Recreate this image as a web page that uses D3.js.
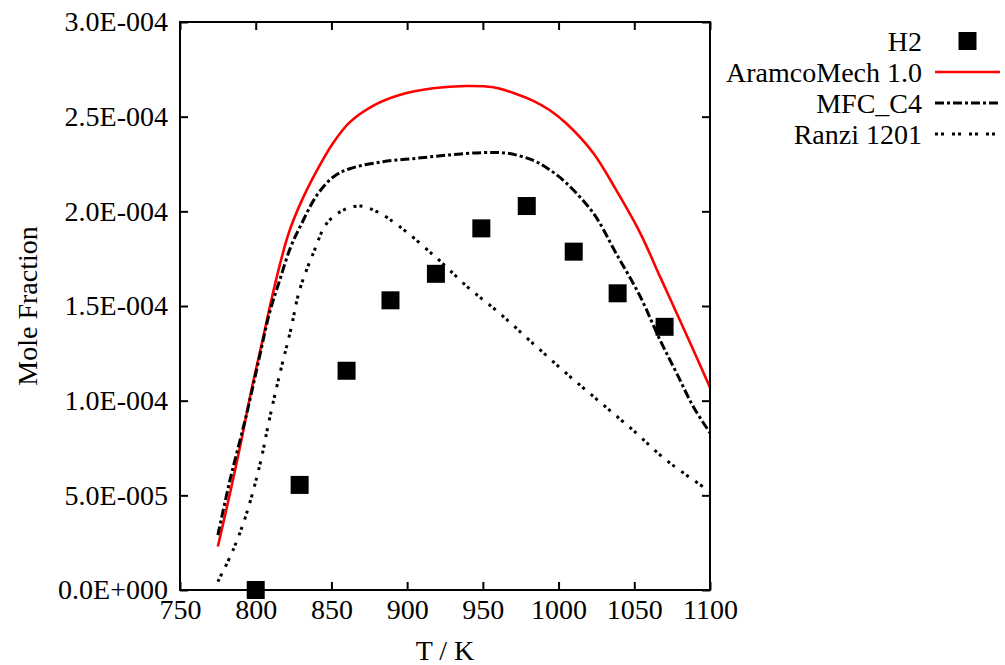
<!DOCTYPE html>
<html>
<head>
<meta charset="utf-8">
<script src="https://cdn.jsdelivr.net/npm/d3@7"></script>
<style>
html,body{margin:0;padding:0;background:#fff;}
svg text{font-family:"Liberation Serif","Times New Roman",serif;fill:#000;}
</style>
</head>
<body>
<svg id="chart" width="1005" height="665"></svg>
<script>
// ---- data ----
const h2T = [800, 829, 860, 889, 919, 949, 979, 1010, 1039, 1070];
const h2V = [0, 5.55e-5, 1.158e-4, 1.53e-4, 1.67e-4, 1.91e-4, 2.028e-4, 1.787e-4, 1.567e-4, 1.39e-4];

const aramcoT = [775, 783, 790, 797, 804, 810, 816, 822, 830, 840, 851, 862, 878, 895, 917, 939, 957, 972, 983, 994, 1005, 1023, 1038, 1054, 1067, 1078, 1089, 1100];
const aramcoV = [2.3e-5, 5.1e-5, 7.7e-5, 1.05e-4, 1.30e-4, 1.52e-4, 1.72e-4, 1.89e-4, 2.05e-4, 2.21e-4, 2.36e-4, 2.47e-4, 2.56e-4, 2.615e-4, 2.65e-4, 2.662e-4, 2.655e-4, 2.62e-4, 2.585e-4, 2.535e-4, 2.465e-4, 2.307e-4, 2.113e-4, 1.884e-4, 1.655e-4, 1.462e-4, 1.268e-4, 1.07e-4];

const mfcT = [775, 783, 794, 803, 809, 816, 823, 830, 840, 851, 862, 884, 906, 928, 950, 966, 983, 994, 1005, 1023, 1038, 1054, 1067, 1078, 1089, 1100];
const mfcV = [2.9e-5, 5.8e-5, 9.3e-5, 1.25e-4, 1.46e-4, 1.64e-4, 1.81e-4, 1.93e-4, 2.08e-4, 2.18e-4, 2.225e-4, 2.262e-4, 2.28e-4, 2.298e-4, 2.31e-4, 2.307e-4, 2.27e-4, 2.22e-4, 2.15e-4, 1.99e-4, 1.778e-4, 1.549e-4, 1.32e-4, 1.145e-4, 9.68e-5, 8.3e-5];

const ranziT = [775, 785, 794, 803, 809, 816, 823, 829, 838, 847, 858, 869, 880, 895, 920, 940, 961, 983, 1005, 1027, 1049, 1071, 1100];
const ranziV = [4.4e-6, 2.1e-5, 4.05e-5, 6.7e-5, 9.0e-5, 1.145e-4, 1.37e-4, 1.585e-4, 1.778e-4, 1.937e-4, 2.007e-4, 2.028e-4, 1.998e-4, 1.92e-4, 1.75e-4, 1.60e-4, 1.462e-4, 1.303e-4, 1.145e-4, 9.95e-5, 8.45e-5, 6.87e-5, 5.2e-5];

const xTicks = [750, 800, 850, 900, 950, 1000, 1050, 1100];
const yTicks = [0, 5e-5, 1e-4, 1.5e-4, 2e-4, 2.5e-4, 3e-4];
const yTickLabels = ["0.0E+000", "5.0E-005", "1.0E-004", "1.5E-004", "2.0E-004", "2.5E-004", "3.0E-004"];

const legendNames = ["H2", "AramcoMech 1.0", "MFC_C4", "Ranzi 1201"];

// ---- layout ----
const L = 180, R = 710, T = 22, B = 590;
const svg = d3.select("#chart");
const x = d3.scaleLinear().domain([750, 1100]).range([L, R]);
const y = d3.scaleLinear().domain([0, 3e-4]).range([B, T]);
const FS = 28;

// axes
const tick = 8;
svg.append("g").attr("transform", `translate(0,${B})`)
  .call(d3.axisBottom(x).tickValues(xTicks).tickFormat(d3.format("d")).tickSizeInner(-tick).tickSizeOuter(0).tickPadding(9));
svg.append("g").attr("transform", `translate(0,${T})`)
  .call(d3.axisTop(x).tickValues(xTicks).tickFormat("").tickSizeInner(-tick).tickSizeOuter(0));
svg.append("g").attr("transform", `translate(${L},0)`)
  .call(d3.axisLeft(y).tickValues(yTicks).tickFormat((d, i) => yTickLabels[i]).tickSizeInner(-tick).tickSizeOuter(0).tickPadding(12));
svg.append("g").attr("transform", `translate(${R},0)`)
  .call(d3.axisRight(y).tickValues(yTicks).tickFormat("").tickSizeInner(-tick).tickSizeOuter(0));
svg.selectAll(".domain").remove();
svg.selectAll(".tick line").attr("stroke", "#000").attr("stroke-width", 2);
svg.selectAll(".tick text").attr("font-size", FS).attr("font-family", "Liberation Serif");

// data squares
const sq = 18;
svg.append("g").selectAll("rect").data(h2T).join("rect")
  .attr("x", (d) => x(d) - sq / 2)
  .attr("y", (d, i) => y(h2V[i]) - sq / 2)
  .attr("width", sq).attr("height", sq).attr("fill", "#000");

// lines
const line = d3.line().x(d => x(d[0])).y(d => y(d[1])).curve(d3.curveCatmullRom.alpha(0.5));
const series = [
  {t: aramcoT, v: aramcoV, color: "#ff0000", w: 2.6, dash: null},
  {t: mfcT, v: mfcV, color: "#000", w: 3, dash: "9,3,3,3"},
  {t: ranziT, v: ranziV, color: "#000", w: 3, dash: "3,3,3,8"}
];
series.forEach(s => {
  svg.append("path")
    .attr("d", line(s.t.map((t, i) => [t, s.v[i]])))
    .attr("fill", "none").attr("stroke", s.color).attr("stroke-width", s.w)
    .attr("stroke-dasharray", s.dash);
});

// frame
svg.append("rect").attr("x", L).attr("y", T).attr("width", R - L).attr("height", B - T)
  .attr("fill", "none").attr("stroke", "#000").attr("stroke-width", 2);

// axis titles
svg.append("text").attr("x", (L + R) / 2).attr("y", 660).attr("text-anchor", "middle")
  .attr("font-size", FS).text("T / K");
svg.append("text").attr("transform", `translate(37,${(T + B) / 2}) rotate(-90)`).attr("text-anchor", "middle")
  .attr("font-size", FS).text("Mole Fraction");

// legend
const lgY0 = 41, lgDy = 31, lgTextX = 922, lgX1 = 935, lgX2 = 1000;
legendNames.forEach((name, i) => {
  const yy = lgY0 + i * lgDy;
  svg.append("text").attr("x", lgTextX).attr("y", yy).attr("dy", "0.35em")
    .attr("text-anchor", "end").attr("font-size", FS).text(name);
  if (i === 0) {
    svg.append("rect").attr("x", (lgX1 + lgX2) / 2 - sq / 2).attr("y", yy - sq / 2)
      .attr("width", sq).attr("height", sq).attr("fill", "#000");
  } else {
    const s = series[i - 1];
    svg.append("line").attr("x1", lgX1).attr("x2", lgX2).attr("y1", yy).attr("y2", yy)
      .attr("stroke", s.color).attr("stroke-width", s.w).attr("stroke-dasharray", s.dash);
  }
});
</script>
</body>
</html>
